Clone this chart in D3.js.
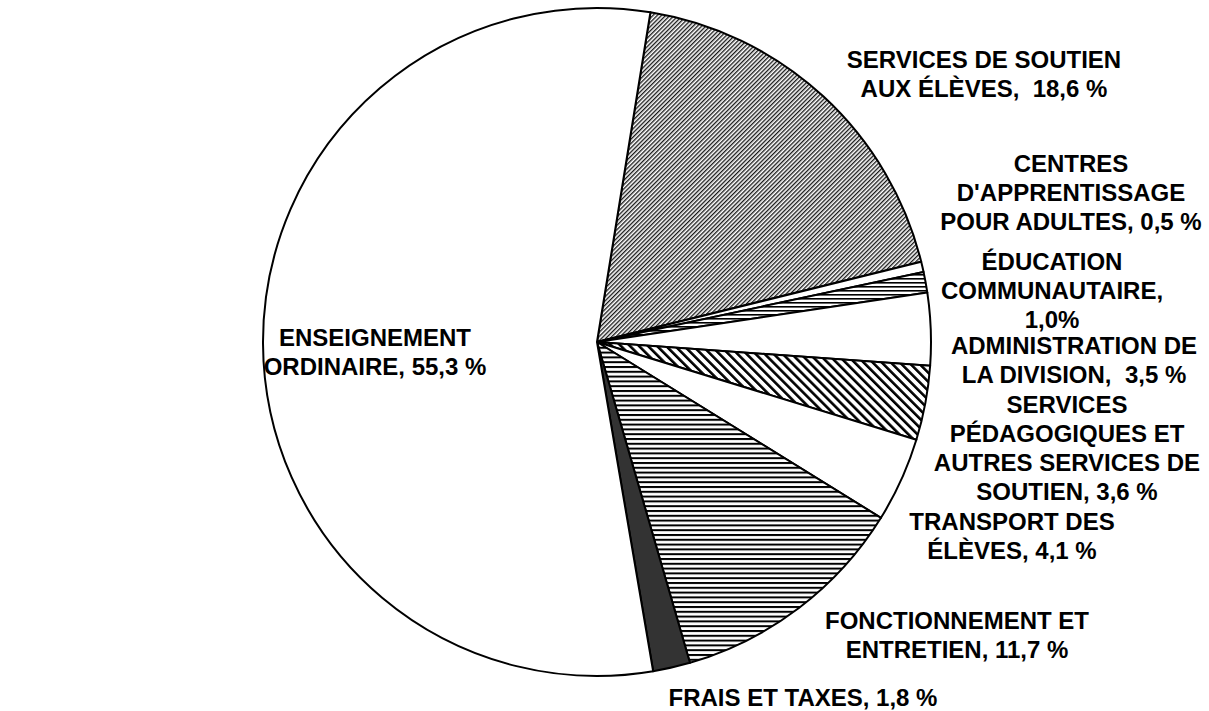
<!DOCTYPE html>
<html>
<head>
<meta charset="utf-8">
<script src="https://cdn.jsdelivr.net/npm/d3@7"></script>
<style>
  html, body { margin: 0; padding: 0; background: #fff; }
  svg { display: block; }
  text { font-family: "Liberation Sans", Arial, sans-serif; font-weight: bold; font-size: 24px; fill: #000; }
</style>
</head>
<body>
<div id="chart"></div>
<script>
// slices in clockwise order, starting at the first slice right of 12 o'clock
const categories = [
  "Services de soutien aux élèves",
  "Centres d'apprentissage pour adultes",
  "Éducation communautaire",
  "Administration de la division",
  "Services pédagogiques et autres services de soutien",
  "Transport des élèves",
  "Fonctionnement et entretien",
  "Frais et taxes",
  "Enseignement ordinaire"
];
const values = [18.6, 0.5, 1.0, 3.5, 3.6, 4.1, 11.7, 1.8, 55.3];
const labelLines = [
  ["SERVICES DE SOUTIEN", "AUX ÉLÈVES,  18,6 %"],
  ["CENTRES", "D'APPRENTISSAGE", "POUR ADULTES, 0,5 %"],
  ["ÉDUCATION", "COMMUNAUTAIRE,", "1,0%"],
  ["ADMINISTRATION DE", "LA DIVISION,  3,5 %"],
  ["SERVICES", "PÉDAGOGIQUES ET", "AUTRES SERVICES DE", "SOUTIEN, 3,6 %"],
  ["TRANSPORT DES", "ÉLÈVES, 4,1 %"],
  ["FONCTIONNEMENT ET", "ENTRETIEN, 11,7 %"],
  ["FRAIS ET TAXES, 1,8 %"],
  ["ENSEIGNEMENT", "ORDINAIRE, 55,3 %"]
];
const fills = ["hatchUp", "white", "hLinesFine", "white", "hatchDown", "white", "hLines", "#333333", "white"];

// layout
const width = 1209, height = 711;
const cx = 597, cy = 342, radius = 334;
const startDeg = 9.2;
const lineGap = 29;
// label centre (x) and centre of first line (y)
const labelPos = [
  [984, 59], [1071, 163], [1052, 261], [1074, 345], [1067, 404],
  [1012, 521], [957, 620], [803, 697], [375, 337]
];

const svg = d3.select("#chart").append("svg")
  .attr("width", width)
  .attr("height", height);

const defs = svg.append("defs");

// fine "/" hatch
const pu = defs.append("pattern")
  .attr("id", "hatchUp")
  .attr("patternUnits", "userSpaceOnUse")
  .attr("width", 3).attr("height", 3)
  .attr("patternTransform", "rotate(45)");
pu.append("rect").attr("width", 3).attr("height", 3).attr("fill", "#fff");
pu.append("rect")
  .attr("x", 0).attr("y", 0).attr("width", 1.35).attr("height", 3)
  .attr("fill", "#1a1a1a");

// wide "\" hatch
const pd = defs.append("pattern")
  .attr("id", "hatchDown")
  .attr("patternUnits", "userSpaceOnUse")
  .attr("width", 6.4).attr("height", 6.4)
  .attr("patternTransform", "rotate(-45)");
pd.append("rect").attr("width", 6.4).attr("height", 6.4).attr("fill", "#fff");
pd.append("rect").attr("x", 0).attr("y", 0).attr("width", 2.6).attr("height", 6.4).attr("fill", "#000");

// horizontal lines
const ph = defs.append("pattern")
  .attr("id", "hLines")
  .attr("patternUnits", "userSpaceOnUse")
  .attr("width", 10).attr("height", 4.8);
ph.append("rect").attr("width", 10).attr("height", 4.8).attr("fill", "#fff");
ph.append("rect").attr("y", 0).attr("width", 10).attr("height", 2).attr("fill", "#000");

const pf = defs.append("pattern")
  .attr("id", "hLinesFine")
  .attr("patternUnits", "userSpaceOnUse")
  .attr("width", 10).attr("height", 4);
pf.append("rect").attr("width", 10).attr("height", 4).attr("fill", "#fff");
pf.append("rect").attr("y", 0).attr("width", 10).attr("height", 1.6).attr("fill", "#000");

const data = categories.map((c, i) => ({ name: c, value: values[i], fill: fills[i], lines: labelLines[i], pos: labelPos[i] }));

const start = startDeg * Math.PI / 180;
const pie = d3.pie()
  .sort(null)
  .value(d => d.value)
  .startAngle(start)
  .endAngle(start + 2 * Math.PI);

const arc = d3.arc().innerRadius(0).outerRadius(radius);

const g = svg.append("g").attr("transform", `translate(${cx},${cy})`);

g.selectAll("path.slice")
  .data(pie(data))
  .enter()
  .append("path")
  .attr("class", "slice")
  .attr("d", arc)
  .attr("fill", d => d.data.fill.startsWith("#") || d.data.fill === "white" ? d.data.fill : `url(#${d.data.fill})`)
  .attr("stroke", "#000")
  .attr("stroke-width", 2)
  .attr("stroke-linejoin", "round");

// labels
const labels = svg.selectAll("g.label")
  .data(data)
  .enter()
  .append("g")
  .attr("class", "label");

labels.each(function(d) {
  const t = d3.select(this).append("text")
    .attr("text-anchor", "middle");
  d.lines.forEach((line, j) => {
    t.append("tspan")
      .attr("x", d.pos[0])
      .attr("y", d.pos[1] + j * lineGap)
      .attr("dy", "0.36em")
      .style("white-space", "pre")
      .text(line);
  });
});
</script>
</body>
</html>
